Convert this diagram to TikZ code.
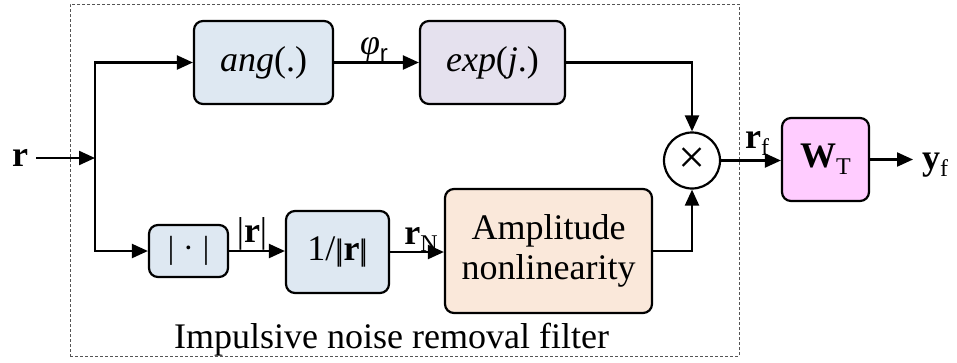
\documentclass[tikz,border=0pt]{standalone}
\usepackage{fontspec}
\setmainfont{Liberation Serif}
\newfontfamily\sansfam{Liberation Sans}
\usetikzlibrary{arrows.meta}
\definecolor{bluefill}{HTML}{DEE8F2}
\definecolor{lilacfill}{HTML}{E5E1EE}
\definecolor{peachfill}{HTML}{FAE8DA}
\definecolor{pinkfill}{HTML}{FFCCFF}
\definecolor{framegray}{HTML}{555555}
% lowered subscript set in a smaller size
\newcommand{\lowsub}[1]{\raisebox{-0.2em}{\fontsize{24}{24}\selectfont #1}}
% short double bar for the norm
\newcommand{\normbar}{\raisebox{0.0em}{\fontsize{31}{31}\selectfont|\kern-0.14em|}}
\begin{document}
\begin{tikzpicture}[x=1pt,y=-1pt,
  blk/.style={draw, rounded corners=9pt, line width=2.2pt, inner sep=0pt,
    font=\fontsize{36}{40}\selectfont},
  arr/.style={-{Triangle[length=16pt,width=14pt]}, line width=2.2pt},
  lbl/.style={inner sep=0pt, font=\fontsize{36}{40}\selectfont}]
\useasboundingbox (0,0) rectangle (957,362);

% dashed frame around the filter
\node[draw=framegray, dash pattern=on 3pt off 2pt, line width=1pt,
  minimum width=669pt, minimum height=352pt, inner sep=0pt] (frame) at (404.5,180) {};
\node[lbl, anchor=base] (caption) at (391.5,348) {Impulsive noise removal filter};

% blocks
\node[blk, fill=bluefill, minimum width=139pt, minimum height=83pt] (ang) at (263.5,62.5) {\textit{ang}(.)};
\node[blk, fill=lilacfill, minimum width=145pt, minimum height=83pt] (exp) at (492.5,62.5) {\textit{exp}(\textit{j}.)};
\node[blk, fill=bluefill, minimum width=79pt, minimum height=52pt] (abs) at (188.5,251)
  {\fontsize{32}{32}\selectfont|\hspace{9pt}·\hspace{9pt}|};
\node[blk, fill=bluefill, minimum width=103pt, minimum height=82pt] (inv) at (337.5,252) {1/\normbar\textbf{r}\normbar};
\node[blk, fill=peachfill, minimum width=207pt, minimum height=124pt, align=center] (amp) at (548.5,251) {Amplitude\\nonlinearity};
\node[draw, circle, line width=2.2pt, minimum size=56pt, inner sep=0pt] (mult) at (692,160.5) {};
\node[inner sep=0pt, font=\fontsize{48}{48}\selectfont] (cross) at (mult) {×};
\node[blk, fill=pinkfill, minimum width=87pt, minimum height=83pt] (wt) at (825.5,159.5) {\textbf{W}\lowsub{T}};

% signal labels
\node[lbl] (rin) at (20,158) {\textbf{r}};
\node[lbl, anchor=base] (phi) at (374,54) {\textit{φ}\lowsub{\sansfam r}};
\node[lbl, anchor=base] (absr) at (252,242) {|\textbf{r}|};
\node[lbl, anchor=base] (rn) at (421,244) {\textbf{r}\lowsub{N}};
\node[lbl, anchor=base] (rf) at (757,148) {\textbf{r}\lowsub{f}};
\node[lbl, anchor=base] (yf) at (935,169) {\textbf{y}\lowsub{f}};

% connections
\coordinate (split) at (95,158);
\draw[arr] (rin.east) ++(8pt,0) -- (split);
\draw[arr] (split) |- (ang.west);
\draw[arr] (split) |- (abs.west);
\draw[arr] (ang) -- (exp);
\draw[arr] (exp.east) -| (mult.north);
\draw[arr] (abs.east) -- (abs.east -| inv.west);
\draw[arr] (inv.east) -- (inv.east -| amp.west);
\draw[arr] (amp.east) -| (mult.south);
\draw[arr] (mult.east) -- (mult.east -| wt.west);
\draw[arr] (wt.east) -- (913,159.5);
\end{tikzpicture}
\end{document}
